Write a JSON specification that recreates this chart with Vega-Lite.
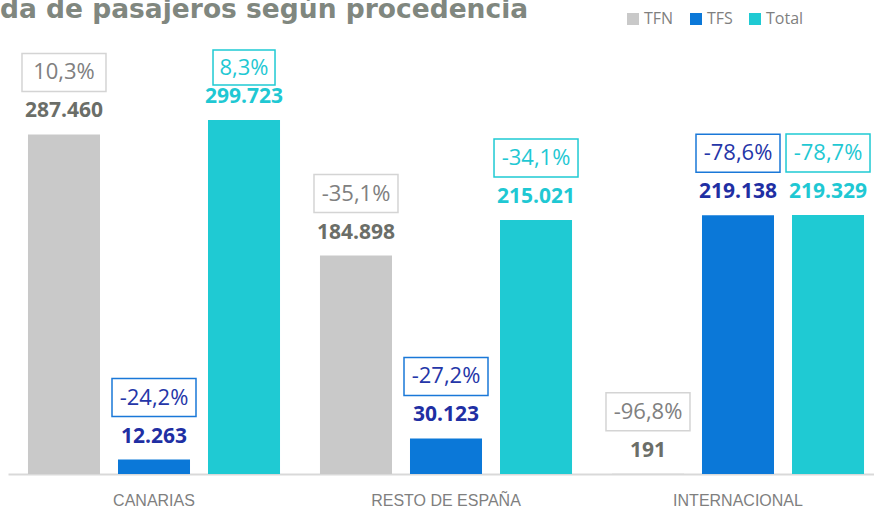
{
  "$schema": "https://vega.github.io/schema/vega-lite/v6.json",
  "width": 874,
  "height": 444,
  "autosize": {"type": "none"},
  "padding": {"top": 30, "bottom": 39, "left": 0, "right": 0},
  "background": "white",
  "config": {
    "view": {"stroke": null},
    "font": "Open Sans",
    "locale": {"number": {"decimal": ",", "thousands": ".", "grouping": [3], "currency": ["", " €"]}}
  },
  "title": {
    "text": "da de pasajeros según procedencia",
    "anchor": "start",
    "frame": "group",
    "offset": 0,
    "dy": 33,
    "baseline": "alphabetic",
    "fontSize": 26.5,
    "fontWeight": "bold",
    "color": "#80877f",
    "font": "DejaVu Sans"
  },
  "data": {
    "values": [
      {"cat": "CANARIAS", "series": "TFN", "value": 287460, "pct": "10,3%"},
      {"cat": "CANARIAS", "series": "TFS", "value": 12263, "pct": "-24,2%"},
      {"cat": "CANARIAS", "series": "Total", "value": 299723, "pct": "8,3%"},
      {"cat": "RESTO DE ESPAÑA", "series": "TFN", "value": 184898, "pct": "-35,1%"},
      {"cat": "RESTO DE ESPAÑA", "series": "TFS", "value": 30123, "pct": "-27,2%"},
      {"cat": "RESTO DE ESPAÑA", "series": "Total", "value": 215021, "pct": "-34,1%"},
      {"cat": "INTERNACIONAL", "series": "TFN", "value": 191, "pct": "-96,8%"},
      {"cat": "INTERNACIONAL", "series": "TFS", "value": 219138, "pct": "-78,6%"},
      {"cat": "INTERNACIONAL", "series": "Total", "value": 219329, "pct": "-78,7%"}
    ]
  },
  "encoding": {
    "x": {
      "field": "cat", "type": "nominal",
      "scale": {"domain": ["CANARIAS", "RESTO DE ESPAÑA", "INTERNACIONAL"], "range": [8, 884], "paddingInner": 0, "paddingOuter": 0},
      "axis": {"title": null, "labelAngle": 0, "labelFontSize": 16, "labelColor": "#7f7f7f", "labelPadding": 18, "ticks": false, "domainColor": "#d9d9d9", "domainWidth": 2, "labelFont": "Liberation Sans"}
    },
    "xOffset": {
      "field": "series", "type": "nominal",
      "scale": {"domain": ["TFN", "TFS", "Total"], "paddingInner": 0.2, "paddingOuter": 0.222}
    },
    "y": {
      "field": "value", "type": "quantitative",
      "scale": {"domain": [0, 375920], "nice": false, "zero": true},
      "axis": null
    }
  },
  "layer": [
    {
      "mark": {"type": "bar"},
      "encoding": {
        "color": {
          "field": "series", "type": "nominal",
          "scale": {"domain": ["TFN", "TFS", "Total"], "range": ["#c9c9c9", "#0b78d8", "#1fcad3"]},
          "legend": {
            "title": null, "orient": "none", "direction": "horizontal",
            "legendX": 625, "legendY": -19, "padding": 0,
            "symbolType": "square", "symbolSize": 144, "symbolStrokeWidth": 0,
            "labelFontSize": 16, "labelColor": "#7f7f7f", "labelFont": "Open Sans",
            "labelOffset": 3, "columnPadding": 14
          }
        }
      }
    },
    {
      "mark": {"type": "text", "fontWeight": "bold", "fontSize": 21, "dy": -23, "baseline": "middle", "font": "Open Sans"},
      "encoding": {
        "text": {"field": "value", "type": "quantitative", "format": ",d"},
        "color": {
          "field": "series", "type": "nominal",
          "scale": {"domain": ["TFN", "TFS", "Total"], "range": ["#6b6e68", "#1f2fa3", "#1fc8d3"]},
          "legend": null
        }
      }
    },
    {
      "transform": [{"filter": "!(datum.cat === 'CANARIAS' && datum.series === 'Total')"}],
      "mark": {"type": "rect", "width": 84, "fill": "white", "strokeWidth": 1.5, "yOffset": -81, "y2Offset": -43},
      "encoding": {
        "y2": {"field": "value"},
        "stroke": {
          "field": "series", "type": "nominal",
          "scale": {"domain": ["TFN", "TFS", "Total"], "range": ["#d4d4d4", "#1a78d8", "#1fcad3"]},
          "legend": null
        }
      }
    },
    {
      "transform": [{"filter": "!(datum.cat === 'CANARIAS' && datum.series === 'Total')"}],
      "mark": {"type": "text", "fontSize": 22, "dy": -62, "baseline": "middle", "font": "Open Sans"},
      "encoding": {
        "text": {"field": "pct", "type": "nominal"},
        "color": {
          "field": "series", "type": "nominal",
          "scale": {"domain": ["TFN", "TFS", "Total"], "range": ["#808080", "#2536a8", "#1fc8d3"]},
          "legend": null
        }
      }
    },
    {
      "transform": [{"filter": "datum.cat === 'CANARIAS' && datum.series === 'Total'"}],
      "mark": {"type": "rect", "width": 62, "fill": "white", "strokeWidth": 1.5, "yOffset": -70, "y2Offset": -35},
      "encoding": {
        "y2": {"field": "value"},
        "stroke": {
          "field": "series", "type": "nominal",
          "scale": {"domain": ["TFN", "TFS", "Total"], "range": ["#d4d4d4", "#1a78d8", "#1fcad3"]},
          "legend": null
        }
      }
    },
    {
      "transform": [{"filter": "datum.cat === 'CANARIAS' && datum.series === 'Total'"}],
      "mark": {"type": "text", "fontSize": 22, "dy": -52, "baseline": "middle", "font": "Open Sans"},
      "encoding": {
        "text": {"field": "pct", "type": "nominal"},
        "color": {
          "field": "series", "type": "nominal",
          "scale": {"domain": ["TFN", "TFS", "Total"], "range": ["#808080", "#2536a8", "#1fc8d3"]},
          "legend": null
        }
      }
    }
  ],
  "resolve": {"scale": {"color": "independent"}}
}
